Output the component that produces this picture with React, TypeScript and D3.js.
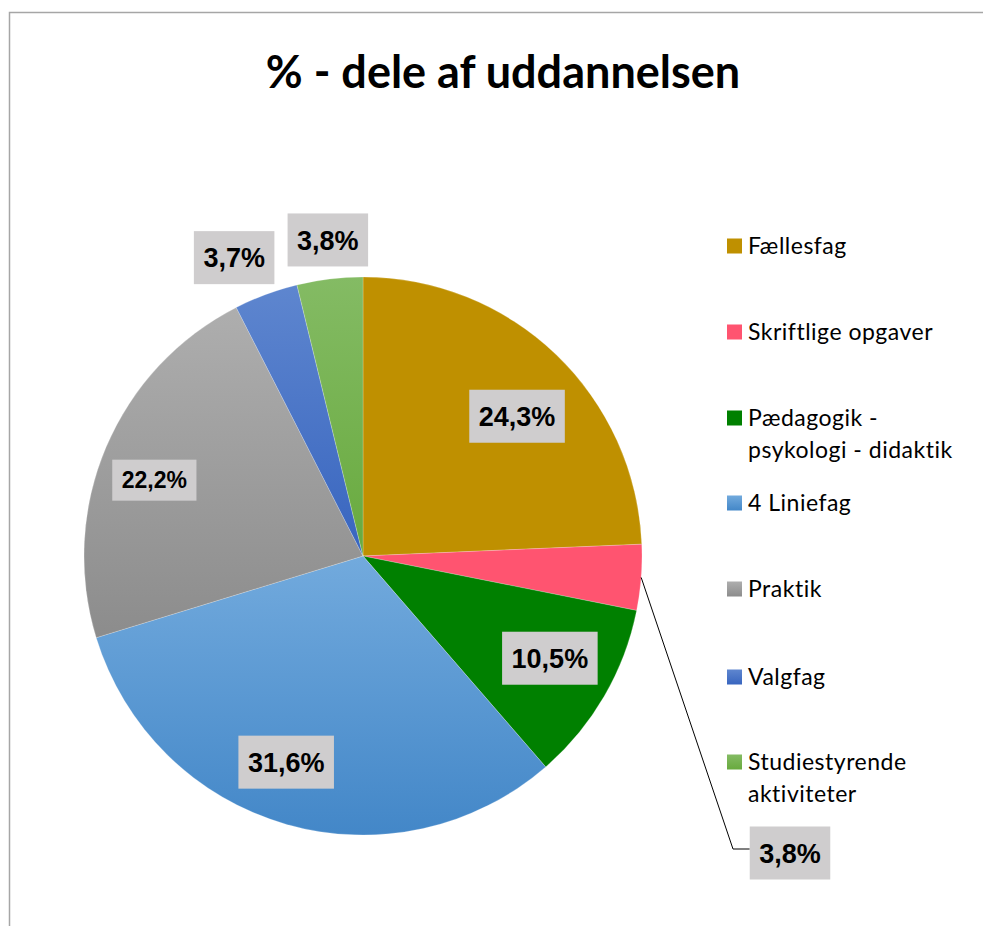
import React from "react";
import * as d3 from "d3";

const categories = [
  "Fællesfag",
  "Skriftlige opgaver",
  "Pædagogik - psykologi - didaktik",
  "4 Liniefag",
  "Praktik",
  "Valgfag",
  "Studiestyrende aktiviteter",
];
const values = [24.3, 3.8, 10.5, 31.6, 22.2, 3.7, 3.8];
const valueLabels = ["24,3%", "3,8%", "10,5%", "31,6%", "22,2%", "3,7%", "3,8%"];
const legendLines = [
  ["Fællesfag"],
  ["Skriftlige opgaver"],
  ["Pædagogik -", "psykologi - didaktik"],
  ["4 Liniefag"],
  ["Praktik"],
  ["Valgfag"],
  ["Studiestyrende", "aktiviteter"],
];
const colorTop = ["#BF9000", "#FF5470", "#008000", "#72AADD", "#AEAEAE", "#5E86CF", "#84BB64"];
const colorBottom = ["#BF9000", "#FF5470", "#008000", "#4387C8", "#8C8C8C", "#3865BF", "#68AA3E"];

// layout (label placement relative to slice mid angle)
const labelAngleNudge = [4, 0, -1.5, 4.4, -3, -3, 0.5];
const labelRadius = [208, 0, 213, 220, 222, 325, 318];
const labelFont = [27, 27, 27, 27, 23, 27, 27];
const legendY = [246, 332, 418, 503, 589, 677, 762];

const W = 983, H = 926;
const cx = 363, cy = 556, R = 279;

function textW(s: string, fs: number) {
  let w = 0;
  for (const ch of s) {
    if (ch === ",") w += 0.278;
    else if (ch === "%") w += 0.889;
    else w += 0.556;
  }
  return w * fs;
}

export default function App() {
  const pie = d3.pie<number>().sort(null).value((d) => d).startAngle(0).endAngle(2 * Math.PI);
  const arcs = pie(values);
  const arc = d3.arc<d3.PieArcDatum<number>>().innerRadius(0).outerRadius(R);

  const labels = arcs.map((a, i) => {
    const mid = (a.startAngle + a.endAngle) / 2;
    if (i === 1) {
      const sx = Math.sin(mid) * R, sy = -Math.cos(mid) * R;
      return { i, mid, special: true, sx, sy };
    }
    const ang = mid + (labelAngleNudge[i] * Math.PI) / 180;
    return { i, mid, special: false, x: Math.sin(ang) * labelRadius[i], y: -Math.cos(ang) * labelRadius[i] };
  });

  return (
    <svg width={W} height={H} style={{ position: "absolute", left: 0, top: 0, background: "#fff" }}>
      <defs>
        {categories.map((c, i) => (
          <linearGradient key={c} id={`g${i}`} x1="0" y1="0" x2="0" y2="1">
            <stop offset="0%" stopColor={colorTop[i]} />
            <stop offset="100%" stopColor={colorBottom[i]} />
          </linearGradient>
        ))}
      </defs>
      <rect x={9.5} y={12.5} width={1200} height={1200} fill="#fff" stroke="#A6A6A6" strokeWidth={1.5} />
      <text
        x={503}
        y={88}
        textAnchor="middle"
        fontFamily="Lato, 'Liberation Sans', sans-serif"
        fontWeight="bold"
        fontSize={45}
        fill="#000"
      >
        % - dele af uddannelsen
      </text>
      <g transform={`translate(${cx},${cy})`}>
        {arcs.map((a, i) => (
          <path key={i} d={arc(a) || ""} fill={`url(#g${i})`} stroke="#fff" strokeOpacity={0.35} strokeWidth={0.6} />
        ))}
        {labels.map((l) => {
          const i = l.i;
          const fs = labelFont[i];
          const tw = textW(valueLabels[i], fs);
          const bw = tw + 19;
          const bh = fs === 27 ? 53 : 41;
          if (l.special) {
            const bx = 790 - cx, by = 853 - cy;
            const ex = 733 - cx, ey = 849 - cy;
            return (
              <g key={i}>
                <polyline
                  points={`${l.sx},${l.sy} ${ex},${ey} ${bx - bw / 2},${ey}`}
                  fill="none"
                  stroke="#000"
                  strokeWidth={1}
                />
                <rect x={bx - bw / 2} y={by - bh / 2} width={bw} height={bh} fill="#CFCDCE" />
                <text
                  x={bx}
                  y={by}
                  dy="0.36em"
                  textAnchor="middle"
                  fontFamily="'Liberation Sans', Arial, sans-serif"
                  fontWeight="bold"
                  fontSize={fs}
                >
                  {valueLabels[i]}
                </text>
              </g>
            );
          }
          return (
            <g key={i}>
              <rect x={(l.x as number) - bw / 2} y={(l.y as number) - bh / 2} width={bw} height={bh} fill="#CFCDCE" />
              <text
                x={l.x}
                y={l.y}
                dy="0.36em"
                textAnchor="middle"
                fontFamily="'Liberation Sans', Arial, sans-serif"
                fontWeight="bold"
                fontSize={fs}
              >
                {valueLabels[i]}
              </text>
            </g>
          );
        })}
      </g>
      <g>
        {categories.map((c, i) => (
          <g key={c}>
            <rect x={727} y={legendY[i] - 7.5} width={15} height={15} fill={`url(#g${i})`} />
            {legendLines[i].map((ln, j) => (
              <text
                key={j}
                x={748}
                y={legendY[i] + j * 32}
                dy="0.35em"
                fontFamily="Lato, 'Noto Sans', sans-serif"
                fontSize={23}
                letterSpacing={0.5}
                fill="#000"
              >
                {ln}
              </text>
            ))}
          </g>
        ))}
      </g>
    </svg>
  );
}
